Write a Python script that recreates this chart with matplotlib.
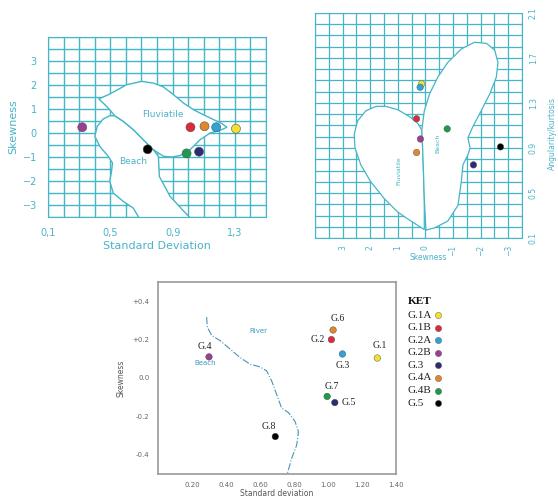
import matplotlib
matplotlib.use("Agg")
import matplotlib.pyplot as plt
from matplotlib.patches import Polygon
import numpy as np

# ---------------- data ----------------
groups = ["G.1A", "G.1B", "G.2A", "G.2B", "G.3", "G.4A", "G.4B", "G.5"]
group_colors = ["#f2e22e", "#e0283a", "#2fa3d6", "#9b3f92", "#2b2d72", "#e2862e", "#1f9a4c", "#000000"]

# Panel 1: standard deviation vs skewness
p1_sd = [1.307, 1.015, 1.18, 0.32, 1.07, 1.105, 0.99, 0.74]
p1_skew = [0.18, 0.24, 0.24, 0.24, -0.78, 0.28, -0.85, -0.68]

p1_fluv_x = [0.426, 0.497, 0.605, 0.701, 0.776, 0.841, 0.905, 0.970, 1.034, 1.098, 1.163, 1.217,
             1.249, 1.206, 1.141, 1.077, 1.013, 0.948, 0.895, 0.841, 0.776, 0.712, 0.648, 0.583,
             0.529, 0.487, 0.454]
p1_fluv_y = [1.417, 1.625, 2.01, 2.15, 2.08, 1.92, 1.60, 1.25, 0.97, 0.76, 0.56, 0.39,
             0.24, 0.11, 0.0, -0.28, -0.69, -0.94, -1.0, -0.97, -0.69, -0.28, 0.14, 0.49,
             0.72, 1.04, 1.25]
p1_beach_x = [0.529, 0.583, 0.648, 0.712, 0.776, 0.809, 0.815, 0.884, 0.959, 1.023, 0.691, 0.648,
              0.583, 0.519, 0.497, 0.508, 0.514, 0.487, 0.433, 0.401, 0.416, 0.454, 0.497]
p1_beach_y = [0.72, 0.49, 0.14, -0.28, -0.69, -0.97, -1.81, -2.64, -3.17, -3.61, -3.61, -3.13,
              -2.85, -2.5, -2.01, -1.60, -1.25, -0.97, -0.56, -0.14, 0.28, 0.58, 0.72]

# Panel 2: skewness vs angularity/kurtosis
p2_skew = [0.14, 0.32, 0.19, 0.18, -1.74, 0.32, -0.79, -2.72]
p2_kurt = [1.47, 1.16, 1.44, 0.98, 0.75, 0.86, 1.07, 0.91]

p2_fluv_x = [0.04, 0.52, 1.0, 1.49, 1.98, 2.34, 2.55, 2.58, 2.46, 2.16, 1.79, 1.43, 1.0, 0.58,
             0.28, 0.13, 0.10, 0.07, 0.04]
p2_fluv_y = [0.175, 0.25, 0.33, 0.45, 0.60, 0.75, 0.90, 1.02, 1.14, 1.23, 1.27, 1.27, 1.24, 1.18,
             1.12, 1.06, 0.90, 0.69, 0.45]
p2_beach_x = [0.13, 0.04, -0.15, -0.45, -0.81, -1.30, -1.78, -2.21, -2.51, -2.63, -2.57, -2.33,
              -2.02, -1.72, -1.54, -1.62, -1.54, -1.36, -1.30, -1.18, -0.81, -0.33, -0.02,
              0.04, 0.07, 0.10]
p2_beach_y = [1.06, 1.23, 1.38, 1.53, 1.66, 1.78, 1.84, 1.83, 1.77, 1.66, 1.53, 1.38,
              1.23, 1.09, 0.99, 0.90, 0.84, 0.75, 0.60, 0.39, 0.25, 0.19, 0.17,
              0.45, 0.69, 0.90]

# Panel 3: standard deviation vs skewness, labelled samples
p3_labels = ["G.1", "G.2", "G.3", "G.4", "G.5", "G.6", "G.7", "G.8"]
p3_sd = [1.29, 1.02, 1.085, 0.30, 1.04, 1.03, 0.995, 0.69]
p3_skew = [0.104, 0.20, 0.125, 0.11, -0.128, 0.25, -0.096, -0.305]
p3_colors = ["#f2e22e", "#e0283a", "#2fa3d6", "#9b3f92", "#2b2d72", "#e2862e", "#1f9a4c", "#000000"]

river_x = [0.286, 0.29, 0.316, 0.365, 0.424, 0.482, 0.541, 0.6, 0.639, 0.669, 0.698, 0.727,
           0.767, 0.806, 0.826, 0.816, 0.786, 0.757]
river_y = [0.317, 0.265, 0.221, 0.195, 0.151, 0.107, 0.072, 0.058, 0.037, -0.016, -0.086, -0.156,
           -0.18, -0.226, -0.279, -0.349, -0.419, -0.51]

# ---------------- figure ----------------
W, H = 558, 501
fig = plt.figure(figsize=(W / 100, H / 100), dpi=100)
CY = "#44b6c6"
TXT = "#4ab3c7"

def box(l, t, r, b):
    return [l / W, 1 - b / H, (r - l) / W, (b - t) / H]

# ---- Panel 1 ----
ax1 = fig.add_axes(box(48, 37, 266, 217))
ax1.set_xlim(0.1, 1.5)
ax1.set_ylim(-3.5, 4.0)
for v in np.arange(0.1, 1.5001, 0.1):
    ax1.axvline(v, color=CY, lw=1.0, zorder=0.5)
for v in np.arange(-3.5, 4.001, 0.5):
    ax1.axhline(v, color=CY, lw=1.0, zorder=0.5)
ax1.add_patch(Polygon(np.column_stack([p1_beach_x, p1_beach_y]), closed=True,
                      facecolor="white", edgecolor=CY, lw=1.0, zorder=1))
ax1.add_patch(Polygon(np.column_stack([p1_fluv_x, p1_fluv_y]), closed=True,
                      facecolor="white", edgecolor=CY, lw=1.0, zorder=1.1))
ax1.scatter(p1_sd, p1_skew, s=42, c=group_colors, edgecolors="#555555", linewidths=0.4, zorder=3)
ax1.text(0.84, 0.79, "Fluviatile", color=TXT, fontsize=6.5, ha="center", va="center", zorder=4)
ax1.text(0.648, -1.18, "Beach", color=TXT, fontsize=6.5, ha="center", va="center", zorder=4)
ax1.set_xticks([0.1, 0.5, 0.9, 1.3])
ax1.set_xticklabels(["0,1", "0,5", "0,9", "1,3"])
ax1.set_yticks([-3, -2, -1, 0, 1, 2, 3])
ax1.tick_params(length=0, colors=TXT, labelsize=7, pad=8)
for s in ax1.spines.values():
    s.set_color(CY)
ax1.set_xlabel("Standard Deviation", color=TXT, fontsize=8, labelpad=2)
ax1.set_ylabel("Skewness", color=TXT, fontsize=8, labelpad=3)

# ---- Panel 2 ----
ax2 = fig.add_axes(box(315, 13, 522, 238))
ax2.set_xlim(4.0, -3.5)
ax2.set_ylim(0.1, 2.1)
for v in np.arange(-3.5, 4.001, 0.5):
    ax2.axvline(v, color=CY, lw=0.9, zorder=0.5)
for v in np.arange(0.1, 2.1001, 0.1):
    ax2.axhline(v, color=CY, lw=0.9, zorder=0.5)
ax2.add_patch(Polygon(np.column_stack([p2_fluv_x, p2_fluv_y]), closed=True,
                      facecolor="white", edgecolor=CY, lw=0.9, zorder=1))
ax2.add_patch(Polygon(np.column_stack([p2_beach_x, p2_beach_y]), closed=True,
                      facecolor="white", edgecolor=CY, lw=0.9, zorder=1.1))
ax2.scatter(p2_skew, p2_kurt, s=22, c=group_colors, edgecolors="#555555", linewidths=0.3, zorder=3)
ax2.text(0.95, 0.70, "Fluviatile", color=TXT, fontsize=4.5, rotation=90, ha="center", va="center", zorder=4)
ax2.text(-0.45, 0.94, "Beach", color=TXT, fontsize=4.5, rotation=90, ha="center", va="center", zorder=4)
ax2.set_xticks([3, 2, 1, 0, -1, -2, -3])
ax2.set_yticks([0.1, 0.5, 0.9, 1.3, 1.7, 2.1])
ax2.set_yticklabels(["0.1", "0.5", "0.9", "1.3", "1.7", "2.1"])
ax2.yaxis.tick_right()
ax2.tick_params(length=0, colors=TXT, labelsize=5.5, pad=5)
for lab in ax2.get_xticklabels() + ax2.get_yticklabels():
    lab.set_rotation(90)
for lab in ax2.get_yticklabels():
    lab.set_va("center")
for s in ax2.spines.values():
    s.set_color(CY)
fig.text(428 / W, 1 - 257 / H, "Skewness", color=TXT, fontsize=5.5, ha="center", va="center")
fig.text(552 / W, 1 - 133 / H, "Angularity/kurtosis", color=TXT, fontsize=5.5, rotation=90,
         ha="center", va="center")

# ---- Panel 3 ----
ax3 = fig.add_axes(box(158, 282, 396, 474))
ax3.set_xlim(0.0, 1.4)
ax3.set_ylim(-0.5, 0.5)
ax3.plot(river_x, river_y, color="#4a93b8", lw=0.8, ls="-.", zorder=1)
ax3.scatter(p3_sd, p3_skew, s=22, c=p3_colors, edgecolors="#444444", linewidths=0.3, zorder=3)
offsets = {"G.1": (2, 6, "center", "bottom"), "G.2": (-5, 0, "right", "center"),
           "G.3": (0, -5, "center", "top"), "G.4": (-3, 4, "center", "bottom"),
           "G.5": (5, 0, "left", "center"), "G.6": (3, 5, "center", "bottom"),
           "G.7": (3, 4, "center", "bottom"), "G.8": (-5, 4, "center", "bottom")}
for lab, x, y in zip(p3_labels, p3_sd, p3_skew):
    dx, dy, ha, va = offsets[lab]
    ax3.annotate(lab, (x, y), xytext=(dx, dy), textcoords="offset points", ha=ha, va=va,
                 fontsize=7, family=["Liberation Serif", "DejaVu Serif"], color="#222222")
ax3.text(0.59, 0.247, "River", color="#3a9cc0", fontsize=5, ha="center", va="center")
ax3.text(0.277, 0.08, "Beach", color="#3a9cc0", fontsize=5, ha="center", va="center")
ax3.set_xticks([0.2, 0.4, 0.6, 0.8, 1.0, 1.2, 1.4])
ax3.set_xticklabels(["0.20", "0.40", "0.60", "0.80", "1.00", "1.20", "1.40"])
ax3.set_yticks([0.4, 0.2, 0.0, -0.2, -0.4])
ax3.set_yticklabels(["+0.4", "+0.2", "0.0", "-0.2", "-0.4"])
ax3.tick_params(length=0, colors="#666666", labelsize=5, pad=6)
for s in ax3.spines.values():
    s.set_color("#999999")
    s.set_linewidth(1.2)
fig.text(277 / W, 1 - 493 / H, "Standard deviation", color="#555555", fontsize=5.5,
         ha="center", va="center")
ax3.set_ylabel("Skewness", color="#555555", fontsize=5.5, labelpad=5)

# ---- Key ----
serif = ["Liberation Serif", "DejaVu Serif"]
fig.text(420 / W, 1 - 301 / H, "KET", family=serif, fontsize=8, fontweight="bold",
         ha="center", va="center", color="#111111")
for i, (g, c) in enumerate(zip(groups, group_colors)):
    yy = 315 + i * 12.6
    fig.text(408 / W, 1 - yy / H, g, family=serif, fontsize=8, ha="left", va="center", color="#222222")
    fig.add_artist(plt.Line2D([438 / W], [1 - yy / H], marker="o", markersize=4.5,
                              markerfacecolor=c, markeredgecolor="#555555", markeredgewidth=0.3,
                              transform=fig.transFigure))

fig.savefig("out.png", dpi=100)
